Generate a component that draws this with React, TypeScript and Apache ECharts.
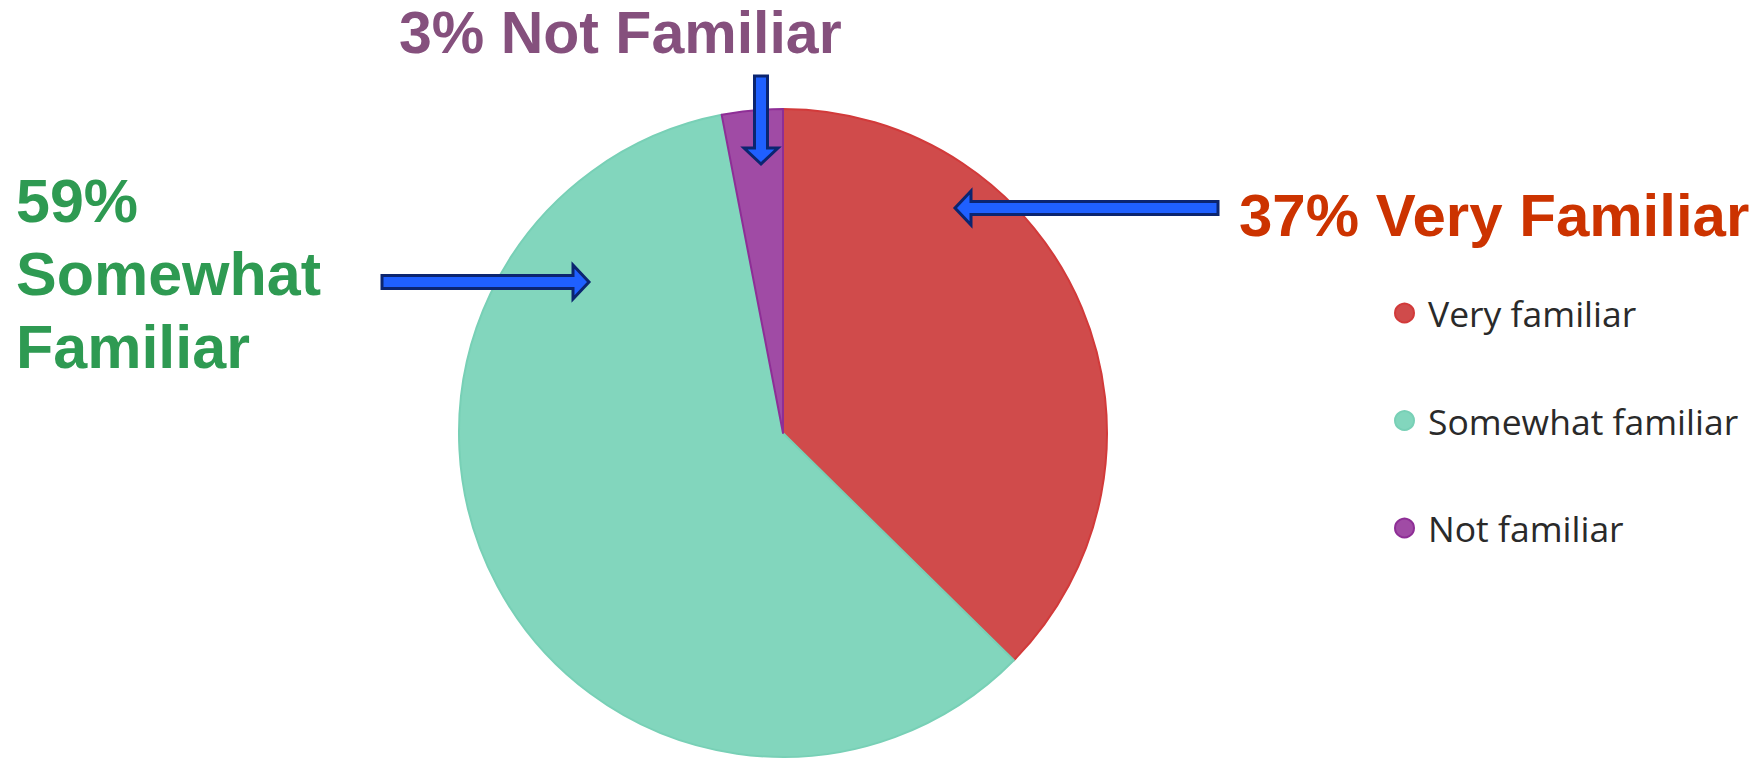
import React, { useEffect, useRef } from "react";
import * as echarts from "echarts";

const categories = ["Very familiar", "Somewhat familiar", "Not familiar"];
const values = [37, 59, 3];
const fillColors = ["#D04B4B", "#82D6BD", "#A04BA5"];
const edgeColors = ["#D23A3A", "#78D0B6", "#8E2E96"];

const calloutRed = ["37% Very Familiar"];
const calloutGreen = ["59%", "Somewhat", "Familiar"];
const calloutPurple = ["3% Not Familiar"];

const ARROW_FILL = "#1F60FF";
const ARROW_STROKE = "#0B2570";

function hArrow(tailX: number, tipX: number, y: number, sh = 6.5, hh = 17, hl = 16) {
  const d = Math.sign(tipX - tailX);
  const bx = tipX - d * hl;
  return [
    [tailX, y - sh], [bx, y - sh], [bx, y - hh], [tipX, y],
    [bx, y + hh], [bx, y + sh], [tailX, y + sh],
  ];
}
function vArrow(x: number, tailY: number, tipY: number, sh = 6.5, hh = 17, hl = 16) {
  const d = Math.sign(tipY - tailY);
  const by = tipY - d * hl;
  return [
    [x - sh, tailY], [x - sh, by], [x - hh, by], [x, tipY],
    [x + hh, by], [x + sh, by], [x + sh, tailY],
  ];
}

export default function App() {
  const ref = useRef<HTMLDivElement>(null);
  useEffect(() => {
    if (!ref.current) return;
    const chart = echarts.init(ref.current, null, { renderer: "svg" });
    const font = "'Liberation Sans', Arial, sans-serif";
    const arrowStyle = { fill: ARROW_FILL, stroke: ARROW_STROKE, lineWidth: 3 };
    const graphic: any[] = [
      { type: "polygon", shape: { points: vArrow(761, 76, 164) }, style: arrowStyle, z: 100 },
      { type: "polygon", shape: { points: hArrow(1218, 955, 208) }, style: arrowStyle, z: 100 },
      { type: "polygon", shape: { points: hArrow(382, 589, 282) }, style: arrowStyle, z: 100 },
      {
        type: "text", x: 399, y: 33,
        style: { text: calloutPurple[0], fill: "#85507D", font: `bold 59px ${font}`, lineHeight: 56, textAlign: "left", textVerticalAlign: "middle" },
        z: 100,
      },
      {
        type: "text", x: 1239, y: 215,
        style: { text: calloutRed[0], fill: "#CC3300", font: `bold 60px ${font}`, textAlign: "left", textVerticalAlign: "middle" },
        z: 100,
      },
      ...calloutGreen.map((t, i) => ({
        type: "text", x: 16, y: 201 + i * 73,
        style: { text: t, fill: "#2E9A52", font: `bold 61px ${font}`, textAlign: "left", textVerticalAlign: "middle" },
        z: 100,
      })),
    ];
    chart.setOption({
      animation: false,
      backgroundColor: "#ffffff",
      legend: {
        orient: "vertical",
        left: 1389,
        top: 288,
        icon: "circle",
        itemWidth: 19,
        itemHeight: 19,
        itemGap: 67.5,
        data: categories,
        textStyle: { fontFamily: "'Open Sans', sans-serif", fontSize: 35.5, color: "#2a2a2a", lineHeight: 40, padding: [0, 0, 0, 9] },
      },
      graphic,
      series: [
        {
          type: "pie",
          center: [783, 433],
          radius: 324,
          startAngle: 90,
          clockwise: true,
          label: { show: false },
          labelLine: { show: false },
          emphasis: { disabled: true },
          data: categories.map((c, i) => ({
            name: c,
            value: values[i],
            itemStyle: { color: fillColors[i], borderColor: edgeColors[i], borderWidth: 2 },
          })),
        },
      ],
    });
    return () => chart.dispose();
  }, []);
  return <div ref={ref} style={{ position: "fixed", left: 0, top: 0, width: 1762, height: 761 }} />;
}
